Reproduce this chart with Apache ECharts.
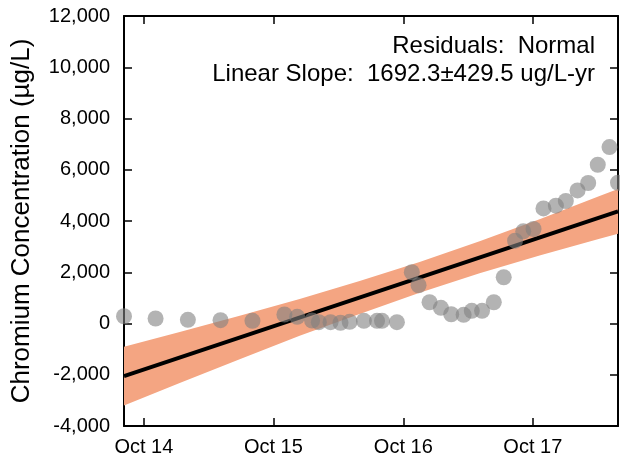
<!DOCTYPE html>
<html>
<head>
<meta charset="utf-8">
<script src="https://cdn.jsdelivr.net/npm/echarts@6/dist/echarts.min.js"></script>
<style>
html,body{margin:0;padding:0;background:#fff;}
#chart{width:620px;height:459px;}
</style>
</head>
<body>
<div id="chart"></div>
<script>
// Observed chromium concentrations (ug/L)
const sampleDates = ['2014-08-06','2014-11-03','2015-02-02','2015-05-05','2015-08-03','2015-11-01','2015-12-07','2016-01-18','2016-02-06','2016-03-10','2016-04-07','2016-05-03','2016-06-12','2016-07-19','2016-08-02','2016-09-13','2016-10-25','2016-11-13','2016-12-14','2017-01-15','2017-02-13','2017-03-20','2017-04-12','2017-05-11','2017-06-13','2017-07-11','2017-08-12','2017-09-04','2017-10-03','2017-10-31','2017-12-05','2018-01-02','2018-02-04','2018-03-06','2018-04-02','2018-05-05','2018-05-29'];
const sampleValues = [284,195,144,129,105,351,261,117,51,51,27,66,105,105,105,51,2000,1492,830,612,362,339,495,495,830,1804,3234,3596,3689,4492,4597,4780,5193,5482,6195,6884,5493];

// Linear trend line
const trendDates = ['2014-08-06','2018-05-29'];
const trendValues = [-2053,4375];

// Confidence band
const bandDates = ['2014-08-06','2015-01-10','2015-06-28','2015-12-14','2016-05-31','2016-11-16','2017-05-04','2017-10-20','2018-04-07','2018-05-29'];
const bandLower = [-3202,-2322,-1391,-482,375,1204,1958,2652,3310,3498];
const bandUpper = [-904,-328,301,958,1659,2396,3208,4072,4980,5252];

// Axis ticks
const xTickDates = ['2014-10-01','2015-10-01','2016-10-01','2017-10-01'];
const xTickLabels = ['Oct 14','Oct 15','Oct 16','Oct 17'];
const xMin = '2014-08-06', xMax = '2018-05-29';
const yMin = -4000, yMax = 12000, yStep = 2000;

const annotLines = ['Residuals:  Normal', 'Linear Slope:  1692.3\u00b1429.5 ug/L-yr'];
const yTitle = 'Chromium Concentration (\u00b5g/L)';

// dates -> days since 1970 (numeric value axis)
const dayNum = d => Math.round(new Date(d + 'T00:00:00Z').getTime() / 86400000);
const tickDays = xTickDates.map(dayNum);
const fmtNum = v => {
  const s = Math.abs(v).toString().replace(/\B(?=(\d{3})+(?!\d))/g, ',');
  return (v < 0 ? '-' : '') + s;
};
const FONT = 'Liberation Sans, Arial, Helvetica, sans-serif';

const chart = echarts.init(document.getElementById('chart'), null, {renderer: 'canvas'});
const axisLine = {show: true, onZero: false, lineStyle: {color: '#000', width: 2}};
const tick = {show: true, inside: true, length: 8, lineStyle: {color: '#000', width: 1.5}};

chart.setOption({
  animation: false,
  backgroundColor: '#fff',
  grid: {left: 124, top: 16, right: 2, bottom: 33, containLabel: false},
  xAxis: [{
    type: 'value', min: dayNum(xMin), max: dayNum(xMax), position: 'bottom',
    axisLine: axisLine,
    axisTick: Object.assign({customValues: tickDays}, tick),
    axisLabel: {customValues: tickDays, color: '#000', fontFamily: FONT, fontSize: 20, margin: 11,
      formatter: v => { const i = tickDays.indexOf(v); return i >= 0 ? xTickLabels[i] : ''; }},
    splitLine: {show: false}
  }, {
    type: 'value', min: dayNum(xMin), max: dayNum(xMax), position: 'top',
    axisLine: axisLine,
    axisTick: Object.assign({customValues: tickDays}, tick),
    axisLabel: {show: false},
    splitLine: {show: false}
  }],
  yAxis: [{
    type: 'value', min: yMin, max: yMax, interval: yStep, position: 'left',
    name: yTitle, nameLocation: 'middle', nameGap: 89,
    nameTextStyle: {color: '#000', fontFamily: FONT, fontSize: 26},
    axisLine: axisLine, axisTick: tick,
    axisLabel: {color: '#000', fontFamily: FONT, fontSize: 20, margin: 14, formatter: fmtNum},
    splitLine: {show: false}
  }, {
    type: 'value', min: yMin, max: yMax, interval: yStep, position: 'right',
    axisLine: axisLine, axisTick: tick, axisLabel: {show: false}, splitLine: {show: false}
  }],
  series: [
    {
      type: 'custom', silent: true, z: 1, clip: true,
      data: [0],
      renderItem: (params, api) => {
        const top = bandDates.map((d, i) => api.coord([dayNum(d), bandUpper[i]]));
        const bot = bandDates.map((d, i) => api.coord([dayNum(d), bandLower[i]])).reverse();
        return {type: 'polygon', shape: {points: top.concat(bot)}, style: {fill: '#f4a582'}};
      }
    },
    {
      type: 'line', symbol: 'none',
      data: trendDates.map((d, i) => [dayNum(d), trendValues[i]]),
      lineStyle: {color: '#000', width: 4}, z: 3
    },
    {
      type: 'scatter', symbol: 'circle', symbolSize: 16,
      data: sampleDates.map((d, i) => [dayNum(d), sampleValues[i]]),
      itemStyle: {color: 'rgba(128,128,128,0.75)'}, z: 4, clip: true
    }
  ],
  graphic: [
    {type: 'text', right: 620 - 595, top: 34,
      style: {text: annotLines[0], fill: '#000', font: '24px ' + FONT, textAlign: 'right'}},
    {type: 'text', right: 620 - 595, top: 62,
      style: {text: annotLines[1], fill: '#000', font: '24px ' + FONT, textAlign: 'right'}}
  ]
});
</script>
</body>
</html>
